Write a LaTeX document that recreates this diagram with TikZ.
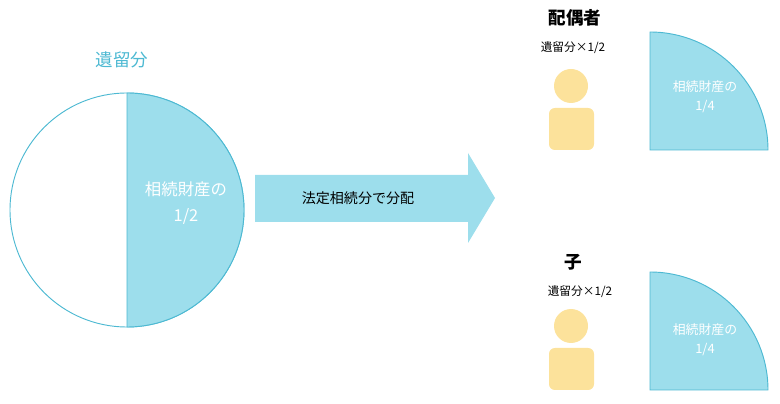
\documentclass[tikz,border=0pt]{standalone}
\usepackage{fontspec}
\setmainfont{Noto Sans CJK JP}
\usepackage{tikz}
\usetikzlibrary{arrows.meta, positioning}
\definecolor{share}{HTML}{9DDEEC}
\definecolor{edge}{HTML}{4DB9D2}
\definecolor{person}{HTML}{FCE29B}

\begin{document}
\begin{tikzpicture}[
		x=0.03cm, y=-0.03cm,
		part/.style={
			fill=share,
			draw=edge,
			thick
		},
		inside/.style={
			text=white,
			font=\fontsize{11}{13}\selectfont,
			align=center
		},
		heir/.style={
			font=\bfseries\fontsize{15}{17}\selectfont
		},
		quota/.style={
			font=\fontsize{10}{12}\selectfont
		},
		body/.style={
			fill=person,
			draw=none
		}
	]
	
	\useasboundingbox (0,0) rectangle (780,404);
	
	% estate
	\draw[draw=edge, thick] (127,210) circle (117*0.03cm);
	\draw[part] (127,93) arc (90:-90:117*0.03cm) -- cycle;
	\node[text=edge, font=\fontsize{15}{17}\selectfont] (R) at (122,60) {遺留分};
	\node[inside, font=\fontsize{14}{18}\selectfont] (E) at (186,203) {相続財産の\\[4pt]1/2};
	
	% distribution arrow
	\fill[share] (255,175) -- (468,175) -- (468,153) -- (495,198) -- (468,243) -- (468,222) -- (255,222) -- cycle;
	\node[font=\fontsize{12}{14}\selectfont] (D) at (358,198) {法定相続分で分配};
	
	% spouse
	\node[heir] (S) at (575,18) {配偶者};
	\node[quota] (SQ) at (573,48) {遺留分×1/2};
	\fill[body] (571,86) circle (17*0.03cm);
	\fill[body, rounded corners=5pt] (549,150) -- (549,108) -- (594,108) -- (594,150) -- cycle;
	\draw[part] (650,150) -- (650,32) arc (90:0:118*0.03cm) -- cycle;
	\node[inside] (SS) at (705,97) {相続財産の\\[3pt]1/4};
	
	% child
	\node[heir] (C) at (573,262) {子};
	\node[quota] (CQ) at (580,292) {遺留分×1/2};
	\fill[body] (571,326) circle (17*0.03cm);
	\fill[body, rounded corners=5pt] (549,390) -- (549,348) -- (594,348) -- (594,390) -- cycle;
	\draw[part] (650,390) -- (650,272) arc (90:0:118*0.03cm) -- cycle;
	\node[inside] (CS) at (705,340) {相続財産の\\[3pt]1/4};
	
\end{tikzpicture}
\end{document}
